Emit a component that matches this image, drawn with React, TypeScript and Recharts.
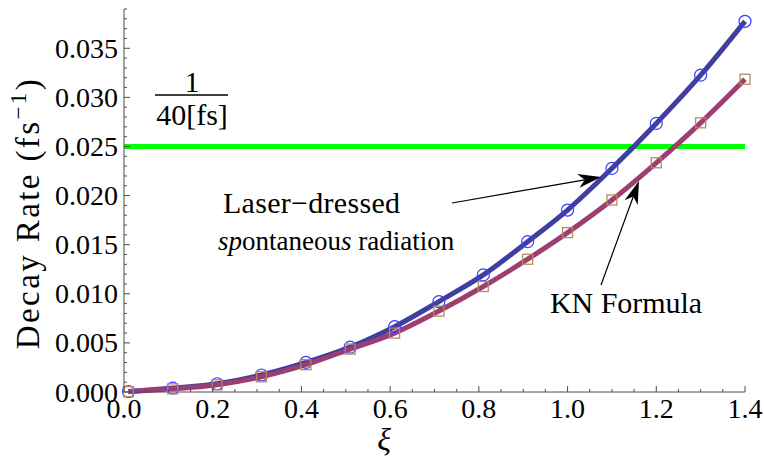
import React from 'react';
import { LineChart, Line, XAxis, YAxis, ReferenceLine } from 'recharts';

// sample points (xi) and decay rates in fs^-1
const xiValues = [0.01, 0.11, 0.21, 0.31, 0.41, 0.51, 0.61, 0.71, 0.81, 0.91, 1.0, 1.1, 1.2, 1.3, 1.4];
const laserDressed = [0.00005, 0.0004, 0.00084, 0.00173, 0.00301, 0.00457, 0.00665, 0.00921, 0.01192, 0.01531, 0.01853, 0.02277, 0.02735, 0.03226, 0.03775];
const knFormula = [0.00003, 0.00032, 0.00073, 0.00155, 0.00278, 0.00437, 0.006, 0.00824, 0.01074, 0.01352, 0.01623, 0.01955, 0.02334, 0.02741, 0.03185];

const xMajorTicks = [0, 0.2, 0.4, 0.6, 0.8, 1.0, 1.2, 1.4];
const xTickLabels = ['0.0', '0.2', '0.4', '0.6', '0.8', '1.0', '1.2', '1.4'];
const yMajorTicks = [0, 0.005, 0.01, 0.015, 0.02, 0.025, 0.03, 0.035];
const yTickLabels = ['0.000', '0.005', '0.010', '0.015', '0.020', '0.025', '0.030', '0.035'];
const threshold = 0.025; // 1/40 fs

const xTicks = Array.from({ length: 29 }, (_, i) => +(i * 0.05).toFixed(2));
const yTicks = Array.from({ length: 40 }, (_, i) => +(i * 0.001).toFixed(3));

const data = xiValues.map((xi, i) => ({ xi, laser: laserDressed[i], kn: knFormula[i] }));

const FONT = '"Liberation Serif", "Times New Roman", serif';
const FRAME = '#4d4d4d';

const majorIndex = (list: number[], v: number) => list.findIndex((m) => Math.abs(m - v) < 1e-9);

const BottomTick = (props: any) => {
  const { x, y, payload } = props;
  const idx = majorIndex(xMajorTicks, payload.value);
  return (
    <g>
      <line x1={x} x2={x} y1={y} y2={y - (idx >= 0 ? 6 : 3)} stroke={FRAME} strokeWidth={1} />
      {idx >= 0 && (
        <text x={x} y={y + 26} textAnchor="middle" fontFamily={FONT} fontSize={28} fill="#000">
          {xTickLabels[idx]}
        </text>
      )}
    </g>
  );
};

const TopTick = (props: any) => {
  const { x, y, payload } = props;
  const major = majorIndex(xMajorTicks, payload.value) >= 0;
  return <line x1={x} x2={x} y1={y} y2={y + (major ? 6 : 3)} stroke={FRAME} strokeWidth={1} />;
};

const LeftTick = (props: any) => {
  const { x, y, payload } = props;
  const idx = majorIndex(yMajorTicks, payload.value);
  return (
    <g>
      <line x1={x} x2={x + (idx >= 0 ? 6 : 3)} y1={y} y2={y} stroke={FRAME} strokeWidth={1} />
      {idx >= 0 && (
        <text x={x - 6} y={y} dy="0.34em" textAnchor="end" fontFamily={FONT} fontSize={28} fill="#000">
          {yTickLabels[idx]}
        </text>
      )}
    </g>
  );
};

const RightTick = (props: any) => {
  const { x, y, payload } = props;
  const major = majorIndex(yMajorTicks, payload.value) >= 0;
  return <line x1={x} x2={x - (major ? 6 : 3)} y1={y} y2={y} stroke={FRAME} strokeWidth={1} />;
};

const CircleDot = (props: any) => {
  const { cx, cy, index } = props;
  return <circle key={`c${index}`} cx={cx} cy={cy} r={6} fill="none" stroke="#3b3bff" strokeWidth={1.2} />;
};

const SquareDot = (props: any) => {
  const { cx, cy, index } = props;
  return <rect key={`s${index}`} x={cx - 5} y={cy - 5} width={10} height={10} fill="none" stroke="#b6895c" strokeWidth={1.3} />;
};

// arrow with a swept-back head, tip at (x2, y2)
function Arrow({ x1, y1, x2, y2 }: { x1: number; y1: number; x2: number; y2: number }) {
  const dx = x2 - x1;
  const dy = y2 - y1;
  const len = Math.hypot(dx, dy);
  const ux = dx / len;
  const uy = dy / len;
  const px = -uy;
  const py = ux;
  const hl = 23;
  const hw = 7;
  const bx = x2 - ux * hl;
  const by = y2 - uy * hl;
  const nx = x2 - ux * hl * 0.72;
  const ny = y2 - uy * hl * 0.72;
  const pts = [
    [x2, y2],
    [bx + px * hw, by + py * hw],
    [nx, ny],
    [bx - px * hw, by - py * hw],
  ]
    .map((p) => p.join(','))
    .join(' ');
  return (
    <g>
      <line x1={x1} y1={y1} x2={nx} y2={ny} stroke="#000" strokeWidth={1.2} />
      <polygon points={pts} fill="#000" />
    </g>
  );
}

export default function App() {
  return (
    <div style={{ position: 'absolute', left: 0, top: 0, width: 764, height: 462, background: '#fff' }}>
      <LineChart width={764} height={462} data={data} margin={{ top: 9, right: 19, bottom: 0, left: 0 }}>
        <XAxis
          xAxisId="bottom"
          dataKey="xi"
          type="number"
          domain={[0, 1.4]}
          ticks={xTicks}
          interval={0}
          height={70}
          tickSize={0}
          tickMargin={0}
          tickLine={false}
          axisLine={{ stroke: FRAME, strokeWidth: 1 }}
          tick={<BottomTick />}
        />
        <XAxis
          xAxisId="top"
          orientation="top"
          dataKey="xi"
          type="number"
          domain={[0, 1.4]}
          ticks={xTicks}
          interval={0}
          height={0}
          tickSize={0}
          tickMargin={0}
          tickLine={false}
          axisLine={{ stroke: FRAME, strokeWidth: 1 }}
          tick={<TopTick />}
        />
        <YAxis
          yAxisId="left"
          type="number"
          domain={[0, 0.039]}
          ticks={yTicks}
          interval={0}
          width={124}
          tickSize={0}
          tickMargin={0}
          tickLine={false}
          axisLine={{ stroke: FRAME, strokeWidth: 1 }}
          tick={<LeftTick />}
        />
        <YAxis
          yAxisId="right"
          orientation="right"
          type="number"
          domain={[0, 0.039]}
          ticks={yTicks}
          interval={0}
          width={0}
          tickSize={0}
          tickMargin={0}
          tickLine={false}
          axisLine={{ stroke: FRAME, strokeWidth: 1 }}
          tick={<RightTick />}
        />
        <ReferenceLine xAxisId="bottom" yAxisId="left" y={threshold} stroke="#00ff00" strokeWidth={5} />
        <Line xAxisId="bottom" yAxisId="left" dataKey="laser" type="monotone" stroke="#3e3f9e" strokeWidth={5} dot={false} isAnimationActive={false} />
        <Line xAxisId="bottom" yAxisId="left" dataKey="kn" type="monotone" stroke="#9d3e72" strokeWidth={5} dot={false} isAnimationActive={false} />
        <Line xAxisId="bottom" yAxisId="left" dataKey="laser" stroke="none" dot={<CircleDot />} isAnimationActive={false} legendType="none" />
        <Line xAxisId="bottom" yAxisId="left" dataKey="kn" stroke="none" dot={<SquareDot />} isAnimationActive={false} legendType="none" />
      </LineChart>
      <svg width={764} height={462} style={{ position: 'absolute', left: 0, top: 0, pointerEvents: 'none' }}>
        <text
          transform="translate(39,213) rotate(-90)"
          textAnchor="middle"
          fontFamily={FONT}
          fontSize={33}
          letterSpacing={2.4}
          fill="#000"
        >
          Decay Rate (fs
          <tspan fontSize={23} dy={-13}>−1</tspan>
          <tspan dy={13}>)</tspan>
        </text>
        <text x={384} y={450} textAnchor="middle" fontFamily={FONT} fontSize={32} fontStyle="italic" fill="#000">
          ξ
        </text>
        <text x={192} y={92} textAnchor="middle" fontFamily={FONT} fontSize={30} fill="#000">1</text>
        <line x1={155} x2={228} y1={95} y2={95} stroke="#000" strokeWidth={1.3} />
        <text x={192} y={125} textAnchor="middle" fontFamily={FONT} fontSize={30} fill="#000">40[fs]</text>
        <text x={223} y={213} fontFamily={FONT} fontSize={30} textLength={177} lengthAdjust="spacing" fill="#000">Laser−dressed</text>
        <text x={218} y={250} fontFamily={FONT} fontSize={27} fill="#000">
          <tspan fontStyle="italic">sp</tspan>ontaneou<tspan fontStyle="italic">s</tspan> radiation
        </text>
        <text x={550} y={313} fontFamily={FONT} fontSize={30} textLength={152} lengthAdjust="spacing" fill="#000">KN Formula</text>
        <Arrow x1={452} y1={203} x2={601} y2={177} />
        <Arrow x1={601} y1={285} x2={639} y2={181} />
      </svg>
    </div>
  );
}
